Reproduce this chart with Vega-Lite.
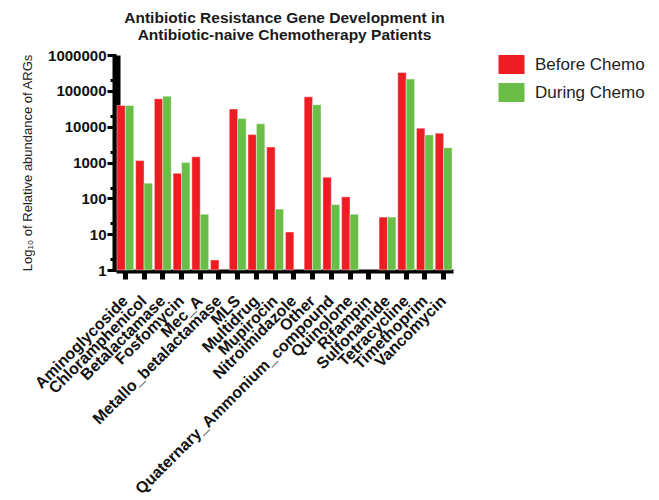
{
  "$schema": "https://vega.github.io/schema/vega-lite/v6.json",
  "autosize": {"type": "none"},
  "padding": {"left": 116, "top": 55, "right": 206, "bottom": 230},
  "width": 337,
  "height": 215,
  "background": "white",
  "title": {
    "text": ["Antibiotic Resistance Gene Development in", "Antibiotic-naive Chemotherapy Patients"],
    "font": "Liberation Sans",
    "fontSize": 15.5,
    "fontWeight": "bold",
    "color": "#1a1a1a",
    "anchor": "middle",
    "frame": "group",
    "lineHeight": 17,
    "offset": 5
  },
  "config": {
    "view": {"stroke": null},
    "font": "Liberation Sans"
  },
  "data": {
    "values": [
      {"gene": "Aminoglycoside", "group": "Before Chemo", "value": 39000},
      {"gene": "Aminoglycoside", "group": "During Chemo", "value": 39000},
      {"gene": "Chloramphenicol", "group": "Before Chemo", "value": 1130},
      {"gene": "Chloramphenicol", "group": "During Chemo", "value": 265},
      {"gene": "Betalactamase", "group": "Before Chemo", "value": 60000},
      {"gene": "Betalactamase", "group": "During Chemo", "value": 71000},
      {"gene": "Fosfomycin", "group": "Before Chemo", "value": 500},
      {"gene": "Fosfomycin", "group": "During Chemo", "value": 1000},
      {"gene": "Mec_A", "group": "Before Chemo", "value": 1440},
      {"gene": "Mec_A", "group": "During Chemo", "value": 36},
      {"gene": "Metallo_betalactamase", "group": "Before Chemo", "value": 1.9},
      {"gene": "MLS", "group": "Before Chemo", "value": 31000},
      {"gene": "MLS", "group": "During Chemo", "value": 17000},
      {"gene": "Multidrug", "group": "Before Chemo", "value": 6000},
      {"gene": "Multidrug", "group": "During Chemo", "value": 12000},
      {"gene": "Mupirocin", "group": "Before Chemo", "value": 2700},
      {"gene": "Mupirocin", "group": "During Chemo", "value": 50},
      {"gene": "Nitroimidazole", "group": "Before Chemo", "value": 11.5},
      {"gene": "Other", "group": "Before Chemo", "value": 68000},
      {"gene": "Other", "group": "During Chemo", "value": 41000},
      {"gene": "Quaternary_Ammonium_compound", "group": "Before Chemo", "value": 390},
      {"gene": "Quaternary_Ammonium_compound", "group": "During Chemo", "value": 67},
      {"gene": "Quinolone", "group": "Before Chemo", "value": 110},
      {"gene": "Quinolone", "group": "During Chemo", "value": 36},
      {"gene": "Sulfonamide", "group": "Before Chemo", "value": 30},
      {"gene": "Sulfonamide", "group": "During Chemo", "value": 30},
      {"gene": "Tetracycline", "group": "Before Chemo", "value": 324000},
      {"gene": "Tetracycline", "group": "During Chemo", "value": 213000},
      {"gene": "Timethoprim", "group": "Before Chemo", "value": 9100},
      {"gene": "Timethoprim", "group": "During Chemo", "value": 5900},
      {"gene": "Vancomycin", "group": "Before Chemo", "value": 6600},
      {"gene": "Vancomycin", "group": "During Chemo", "value": 2600}
    ]
  },
  "mark": {"type": "bar", "stroke": "white", "strokeWidth": 0.6, "strokeOpacity": 0.7},
  "encoding": {
    "x": {
      "field": "gene",
      "type": "nominal",
      "scale": {
        "domain": ["Aminoglycoside", "Chloramphenicol", "Betalactamase", "Fosfomycin", "Mec_A", "Metallo_betalactamase", "MLS", "Multidrug", "Mupirocin", "Nitroimidazole", "Other", "Quaternary_Ammonium_compound", "Quinolone", "Rifampin", "Sulfonamide", "Tetracycline", "Timethoprim", "Vancomycin"],
        "paddingInner": 0.1,
        "paddingOuter": 0.05
      },
      "axis": {
        "title": null,
        "labelAngle": -45,
        "labelAlign": "right",
        "labelBaseline": "middle",
        "labelFont": "Liberation Sans",
        "labelFontSize": 16,
        "labelFontWeight": "bold",
        "labelColor": "#111111",
        "labelPadding": 19,
        "labelOverlap": false,
        "labelLimit": 500,
        "domainColor": "black",
        "domainWidth": 4,
        "offset": 1,
        "tickColor": "black",
        "tickWidth": 5,
        "tickSize": 8
      }
    },
    "xOffset": {
      "field": "group",
      "type": "nominal",
      "scale": {"domain": ["Before Chemo", "During Chemo"], "paddingInner": 0, "paddingOuter": 0}
    },
    "y": {
      "field": "value",
      "type": "quantitative",
      "scale": {"type": "log", "domain": [1, 1000000], "nice": false, "clamp": true},
      "axis": {
        "title": "Log₁₀ of Relative abundance of ARGs",
        "titleFont": "Liberation Sans",
        "titleFontSize": 13,
        "titleFontWeight": "normal",
        "titleColor": "#222222",
        "titlePadding": 13,
        "values": [1, 2, 10, 20, 100, 200, 1000, 2000, 10000, 20000, 100000, 200000, 1000000],
        "labelExpr": "abs(log(datum.value)/LN10 - round(log(datum.value)/LN10)) < 0.000001 ? format(datum.value, 'd') : ''",
        "labelFont": "Liberation Sans",
        "labelFontSize": 15,
        "labelFontWeight": "bold",
        "labelColor": "#111111",
        "labelPadding": 1,
        "labelBaseline": "middle",
        "domainColor": "black",
        "domainWidth": 8,
        "tickColor": "black",
        "tickWidth": 3,
        "tickSize": {"condition": {"test": "abs(log(datum.value)/LN10 - round(log(datum.value)/LN10)) < 0.000001", "value": 9}, "value": 6},
        "grid": false
      }
    },
    "color": {
      "field": "group",
      "type": "nominal",
      "scale": {"domain": ["Before Chemo", "During Chemo"], "range": ["#EE1D24", "#6ABD46"]},
      "legend": {
        "title": null,
        "orient": "none",
        "legendX": 386,
        "legendY": 0,
        "padding": 0,
        "symbolType": "M-1.37,-1L1.37,-1L1.37,1L-1.37,1Z",
        "symbolSize": 361,
        "symbolStrokeWidth": 0,
        "labelFont": "Liberation Sans",
        "labelFontSize": 17,
        "labelColor": "#222222",
        "labelOffset": 14,
        "rowPadding": 9,
        "labelLimit": 300
      }
    }
  }
}
